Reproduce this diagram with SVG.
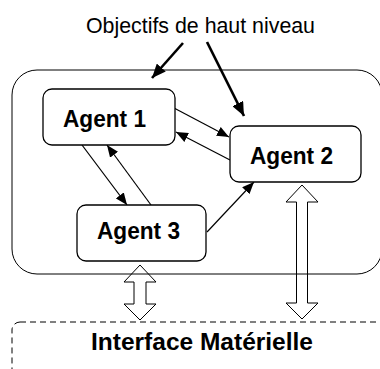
<svg xmlns="http://www.w3.org/2000/svg" width="380" height="369" viewBox="0 0 380 369">
<style>
.box{fill:#fff;stroke:#000;stroke-width:1.3}
.frame{fill:none;stroke:#000;stroke-width:1}
.dash{fill:none;stroke:#000;stroke-width:1;stroke-dasharray:6 4}
.lbl{font-family:"Liberation Sans",Arial,sans-serif;font-weight:bold;font-size:23px;text-anchor:middle;fill:#000}
.title{font-family:"Liberation Sans",Arial,sans-serif;font-size:21.5px;text-anchor:middle;fill:#000}
.thin{stroke:#000;stroke-width:1.2;fill:none;marker-end:url(#ah)}
.thick{stroke:#000;stroke-width:2.6;fill:none;marker-end:url(#ahb)}
.hollow{fill:none;stroke:#000;stroke-width:1}
</style>
<defs>
<marker id="ah" viewBox="0 0 12 10" refX="12" refY="5" markerWidth="12" markerHeight="10" markerUnits="userSpaceOnUse" orient="auto"><path d="M0,0 L12,5 L0,10 z" fill="#000"/></marker>
<marker id="ahb" viewBox="0 0 14 12" refX="14" refY="6" markerWidth="14" markerHeight="12" markerUnits="userSpaceOnUse" orient="auto"><path d="M0,0 L14,6 L0,12 z" fill="#000"/></marker>
</defs>
<rect class="frame" x="12" y="70" width="370" height="204" rx="25" ry="25"/>
<rect class="dash" x="12" y="322" width="380" height="80" rx="8" ry="8"/>
<text class="title" x="200.5" y="33" textLength="229" lengthAdjust="spacingAndGlyphs">Objectifs de haut niveau</text>
<g id="connectors">
<line class="thick" x1="183" y1="43" x2="152" y2="78"/>
<line class="thick" x1="207" y1="42" x2="244" y2="116"/>
<line class="thin" x1="174" y1="108" x2="229" y2="137"/>
<line class="thin" x1="230" y1="160" x2="176" y2="132"/>
<line class="thin" x1="82" y1="145" x2="127" y2="205"/>
<line class="thin" x1="151" y1="205" x2="107" y2="145"/>
<line class="thin" x1="207" y1="232" x2="254" y2="182"/>
<path class="hollow" d="M140,265 L156,282 L146,282 L146,304 L156,304 L140,320 L124,304 L134,304 L134,282 L124,282 Z"/>
<path class="hollow" d="M302,185 L318,202 L307.5,202 L307.5,303 L318,303 L302,319 L286,303 L296.5,303 L296.5,202 L286,202 Z"/>
</g>
<g id="agent1"><rect class="box" x="43" y="89" width="132" height="56" rx="9" ry="9"/><text class="lbl" x="104.5" y="127" textLength="83" lengthAdjust="spacingAndGlyphs">Agent 1</text></g>
<g id="agent2"><rect class="box" x="230" y="126" width="131" height="56" rx="9" ry="9"/><text class="lbl" x="291.5" y="164" textLength="83" lengthAdjust="spacingAndGlyphs">Agent 2</text></g>
<g id="agent3"><rect class="box" x="77" y="205" width="129" height="56" rx="9" ry="9"/><text class="lbl" x="138.5" y="239" textLength="83" lengthAdjust="spacingAndGlyphs">Agent 3</text></g>
<g id="interface"><text class="lbl" x="202" y="350" font-size="22" textLength="222" lengthAdjust="spacingAndGlyphs">Interface Matérielle</text></g>
</svg>
